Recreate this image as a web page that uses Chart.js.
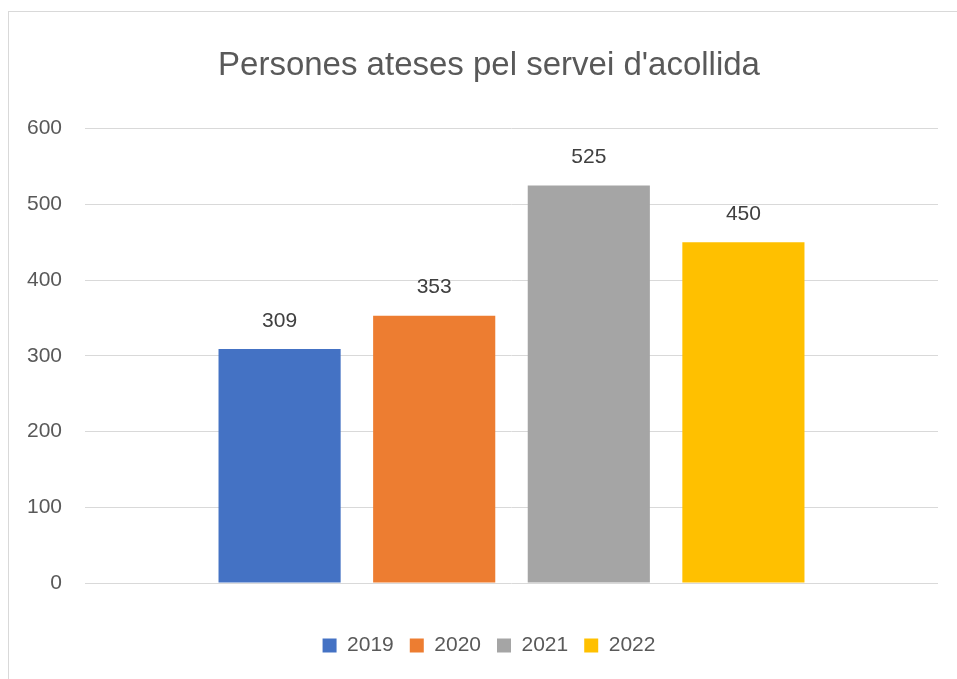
<!DOCTYPE html>
<html>
<head>
    <title>Persones ateses pel servei d'acollida</title>
    <script src="https://cdn.jsdelivr.net/npm/chart.js"></script>
    <style>
        body {
            margin: 0;
            background: #ffffff;
            overflow: hidden;
        }
        .chart-box {
            position: absolute;
            left: 8px;
            top: 11px;
            width: 960px;
            height: 668px;
            border: 1px solid #d9d9d9;
            background: white;
        }
    </style>
</head>
<body>

<div class="chart-box">
    <canvas id="acollidaChart" width="960" height="668"></canvas>
</div>

<script>
    const FONT = "'Liberation Sans', sans-serif";

    const categories = ['Persones ateses'];
    const years = ['2019', '2020', '2021', '2022'];
    const values = [309, 353, 525, 450];
    const colors = ['#4472C4', '#ED7D31', '#A5A5A5', '#FFC000'];
    const yTicks = [0, 100, 200, 300, 400, 500, 600];

    // draws the value above each bar
    const barLabels = {
        id: 'barLabels',
        afterDatasetsDraw(chart) {
            const ctx = chart.ctx;
            ctx.save();
            ctx.font = '21px ' + FONT;
            ctx.fillStyle = '#404040';
            ctx.textAlign = 'center';
            ctx.textBaseline = 'middle';
            chart.data.datasets.forEach((ds, i) => {
                chart.getDatasetMeta(i).data.forEach((bar, j) => {
                    ctx.fillText(ds.data[j], bar.x, bar.y - 28);
                });
            });
            ctx.restore();
        }
    };

    new Chart(document.getElementById('acollidaChart'), {
        type: 'bar',
        data: {
            labels: categories,
            datasets: years.map((y, i) => ({
                label: y,
                data: [values[i]],
                backgroundColor: colors[i],
                categoryPercentage: 0.725,
                barPercentage: 0.79
            }))
        },
        options: {
            responsive: false,
            animation: false,
            layout: { padding: { left: 0, right: 0, top: 0, bottom: 14 } },
            scales: {
                x: {
                    afterFit: (axis) => { axis.height = 36; },
                    grid: { display: false },
                    border: { display: false },
                    ticks: { display: false }
                },
                y: {
                    min: yTicks[0],
                    max: yTicks[yTicks.length - 1],
                    afterBuildTicks: (axis) => { axis.ticks = yTicks.map(v => ({ value: v })); },
                    afterFit: (axis) => { axis.width = 76; },
                    grid: { color: '#d9d9d9', lineWidth: 1, drawTicks: false },
                    border: { display: false },
                    ticks: {
                        padding: 23,
                        color: '#595959',
                        font: { family: FONT, size: 21 }
                    }
                },
                // empty right-hand spacer so the plot stops where the reference does
                yRight: {
                    position: 'right',
                    afterFit: (axis) => { axis.width = 31; },
                    grid: { display: false },
                    border: { display: false },
                    ticks: { display: false }
                }
            },
            plugins: {
                title: {
                    display: true,
                    text: "Persones ateses pel servei d'acollida",
                    color: '#595959',
                    font: { family: FONT, size: 33, weight: 'normal' },
                    padding: { top: 34, bottom: 43 }
                },
                legend: {
                    position: 'bottom',
                    labels: {
                        boxWidth: 14,
                        boxHeight: 14,
                        padding: 16,
                        color: '#595959',
                        font: { family: FONT, size: 21 }
                    }
                },
                tooltip: { enabled: false }
            }
        },
        plugins: [barLabels]
    });
</script>

</body>
</html>
